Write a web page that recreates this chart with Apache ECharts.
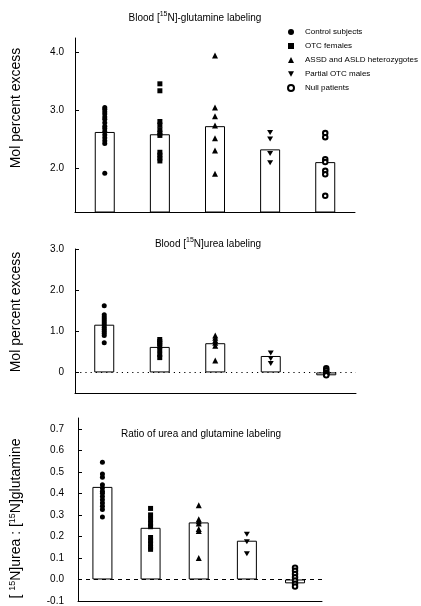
<!DOCTYPE html>
<html><head><meta charset="utf-8">
<script src="https://cdn.jsdelivr.net/npm/echarts@6/dist/echarts.min.js"></script>
<style>html,body{margin:0;padding:0;background:#fff}#c{width:421px;height:606px}</style>
</head><body><div id="c"></div>
<script>
const groups = ['Control subjects','OTC females','ASSD and ASLD heterozygotes','Partial OTC males','Null patients'];

// Panel 1: Blood [15N]-glutamine labeling (mol percent excess)
const glnBars = [2.62, 2.58, 2.72, 2.32, 2.10];
const glnControl = [3.04, 3.01, 2.97, 2.93, 2.88, 2.84, 2.78, 2.72, 2.68, 2.63, 2.57, 2.52, 2.47, 2.42, 1.91];
const glnOTC = [3.45, 3.33, 2.80, 2.74, 2.66, 2.60, 2.56, 2.27, 2.22, 2.17, 2.12];
const glnASSD = [3.94, 3.04, 2.89, 2.73, 2.51, 2.30, 1.90];
const glnPartial = [2.61, 2.50, 2.25, 2.09];
const glnNull = [2.60, 2.53, 2.15, 2.10, 1.95, 1.89, 1.52];
const glnTicks = [2, 3, 4];

// Panel 2: Blood [15N]urea labeling (mol percent excess)
const ureaBars = [1.16, 0.62, 0.71, 0.40, -0.07];
const ureaControl = [1.62, 1.40, 1.35, 1.30, 1.25, 1.20, 1.15, 1.10, 1.05, 1.00, 0.95, 0.90, 0.72];
const ureaOTC = [0.80, 0.75, 0.70, 0.64, 0.55, 0.44, 0.36];
const ureaASSD = [0.90, 0.84, 0.78, 0.72, 0.65, 0.29];
const ureaPartial = [0.47, 0.34, 0.22];
const ureaNull = [0.10, 0.05, 0.00, -0.02, -0.05, -0.07];
const ureaTicks = [0, 1, 2, 3];

// Panel 3: Ratio of urea and glutamine labeling
const ratioBars = [0.43, 0.24, 0.265, 0.18, -0.018];
const ratioControl = [0.545, 0.49, 0.475, 0.44, 0.425, 0.41, 0.40, 0.385, 0.37, 0.355, 0.34, 0.325, 0.29];
const ratioOTC = [0.33, 0.30, 0.28, 0.26, 0.245, 0.195, 0.18, 0.165, 0.15, 0.14];
const ratioASSD = [0.345, 0.28, 0.27, 0.26, 0.235, 0.225, 0.10];
const ratioPartial = [0.21, 0.175, 0.12];
const ratioNull = [0.055, 0.04, 0.025, 0.01, -0.005, -0.02, -0.033];
const ratioTicks = [-0.1, 0, 0.1, 0.2, 0.3, 0.4, 0.5, 0.6, 0.7];

const FONT = 'Liberation Sans, Arial, sans-serif';
const downTri = 'path://M0,0 L10,0 L5,9 Z';
const symbols = [
  {symbol:'circle', size:5},
  {symbol:'rect', size:[5,5]},
  {symbol:'triangle', size:6},
  {symbol:downTri, size:[6,5]},
  {symbol:'emptyCircle', size:4.5}
];

const panels = [
  {bars: glnBars, pts:[glnControl, glnOTC, glnASSD, glnPartial, glnNull], zero:null},
  {bars: ureaBars, pts:[ureaControl, ureaOTC, ureaASSD, ureaPartial, ureaNull], zero:'dotted'},
  {bars: ratioBars, pts:[ratioControl, ratioOTC, ratioASSD, ratioPartial, ratioNull], zero:'dashed'}
];

const grids = [
  {left:72, top:38, width:283, height:174},
  {left:72.5, top:249, width:283.5, height:144},
  {left:74, top:418, width:248, height:184}
];
const xRanges = [[-0.54, 4.54], [-0.527, 4.536], [-0.507, 4.56]];

const xAxes = xRanges.map((r, i) => ({
  gridIndex:i, type:'value', min:r[0], max:r[1],
  axisLine:{show:true, onZero:false, lineStyle:{color:'#000', width:1}},
  axisTick:{show:false}, axisLabel:{show:false}, splitLine:{show:false}
}));

const supRich = {sup:{fontSize:9, lineHeight:9, verticalAlign:'top', fontFamily:FONT, color:'#000'}};
function yAxis(i, min, max, ticks, fmt, name, gap, pad, margin) {
  return {
    gridIndex:i, type:'value', min:min, max:max,
    axisLine:{show:true, onZero:false, lineStyle:{color:'#000', width:1}},
    axisTick:{show:true, inside:true, length:4, customValues:ticks, lineStyle:{color:'#000'}},
    axisLabel:{customValues:ticks, formatter:fmt, margin:margin, fontSize:10, color:'#000', fontFamily:FONT},
    splitLine:{show:false},
    name:name, nameLocation:'middle', nameGap:gap, nameRotate:90,
    nameTextStyle:{fontSize:14, lineHeight:16, color:'#000', fontFamily:FONT, padding:pad, rich:supRich}
  };
}
const yAxes = [
  yAxis(0, 1.24, 4.24, glnTicks, v => v.toFixed(1), 'Mol percent excess', 51, [0,0,0,34], 11),
  yAxis(1, -0.5, 3.0, ureaTicks, v => (v === 0 ? '0' : v.toFixed(1)), 'Mol percent excess', 51, [0,0,0,18], 11),
  yAxis(2, -0.1, 0.75, ratioTicks, v => v.toFixed(1), '[ {sup|15}N]urea : [{sup|15}N]glutamine', 54, [0,18,0,0], 14)
];

const series = [];
panels.forEach((p, pi) => {
  const bar = {
    type:'bar', xAxisIndex:pi, yAxisIndex:pi, barWidth:20, z:2,
    data:p.bars.map((v, i) => [i, v]),
    itemStyle:{color:'#fff', borderColor:'#000', borderWidth:1},
    silent:true, clip:true
  };
  if (p.zero) {
    bar.markLine = {
      silent:true, symbol:['none','none'], label:{show:false}, z:1,
      lineStyle:{color:'#000', width:1, type: p.zero === 'dotted' ? [1.2, 4] : [4, 4]},
      data:[{yAxis:0}]
    };
  }
  series.push(bar);
  p.pts.forEach((arr, gi) => {
    series.push({
      type:'scatter', name:groups[gi], xAxisIndex:pi, yAxisIndex:pi, z:5,
      symbol:symbols[gi].symbol, symbolSize:symbols[gi].size,
      itemStyle:{color:'#000', borderColor:'#000', borderWidth: gi === 4 ? 0.8 : 0, opacity:1},
      data:arr.map(v => [gi, v])
    });
  });
});

const titleStyle = {fontSize:10, lineHeight:14, color:'#000', fontWeight:'normal', fontFamily:FONT,
  rich:{sup:{fontSize:7, lineHeight:8, verticalAlign:'top', fontFamily:FONT, color:'#000'}}};

const chart = echarts.init(document.getElementById('c'), null, {renderer:'canvas'});
chart.setOption({
  backgroundColor:'#fff',
  animation:false,
  title:[
    {text:'Blood [{sup|15}N]-glutamine labeling', left:195, top:11, textAlign:'center', padding:0, textStyle:titleStyle},
    {text:'Blood [{sup|15}N]urea labeling', left:208, top:237, textAlign:'center', padding:0, textStyle:titleStyle},
    {text:'Ratio of urea and glutamine labeling', left:201, top:427, textAlign:'center', padding:0, textStyle:titleStyle}
  ],
  legend:{
    data:groups, orient:'vertical', left:287, top:28, padding:0, itemWidth:6, itemHeight:6, itemGap:6,
    selectedMode:false,
    textStyle:{fontSize:8, color:'#000', fontFamily:FONT, padding:[0,0,0,6]}
  },
  grid:grids,
  xAxis:xAxes,
  yAxis:yAxes,
  series:series
});
</script></body></html>
